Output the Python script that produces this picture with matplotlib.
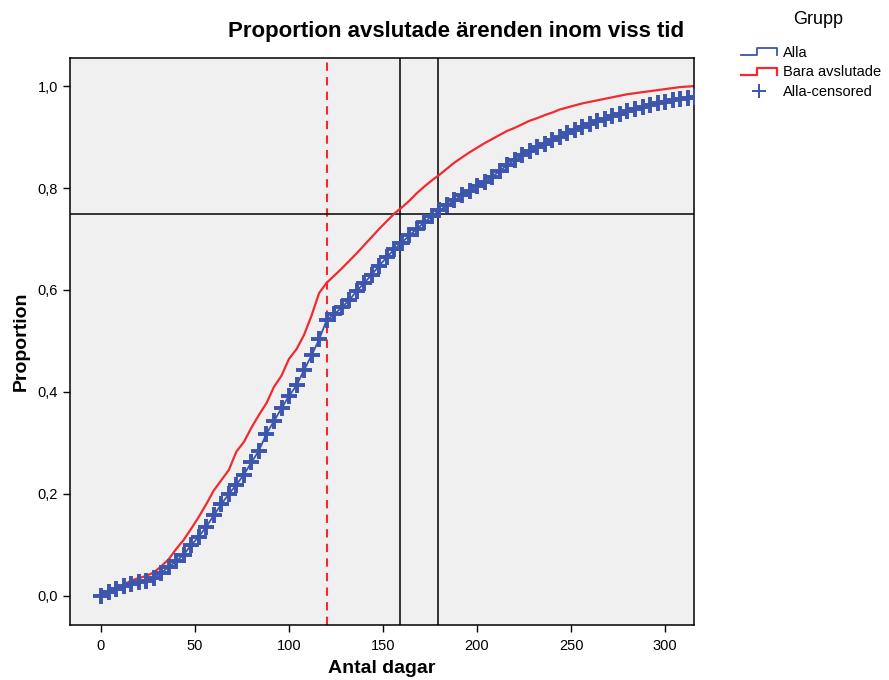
import numpy as np
import matplotlib
matplotlib.use("Agg")
import matplotlib.pyplot as plt
from matplotlib.lines import Line2D
from matplotlib.legend_handler import HandlerBase

plt.rcParams['font.family'] = ['Liberation Sans', 'DejaVu Sans']

# Kumulativ andel avslutade ärenden (avläst var 4:e dag)
dagar = [0, 4, 8, 12, 16, 20, 24, 28, 32, 36, 40, 44, 48, 52, 56, 60, 64, 68, 72, 76,
         80, 84, 88, 92, 96, 100, 104, 108, 112, 116, 120, 124, 128, 132, 136, 140, 144, 148, 152, 156,
         160, 164, 168, 172, 176, 180, 184, 188, 192, 196, 200, 204, 208, 212, 216, 220, 224, 228, 232, 236,
         240, 244, 248, 252, 256, 260, 264, 268, 272, 276, 280, 284, 288, 292, 296, 300, 304, 308, 312, 316]

alla = [0.000, 0.008, 0.014, 0.019, 0.023, 0.027, 0.030, 0.035, 0.045, 0.057,
        0.068, 0.081, 0.100, 0.116, 0.136, 0.158, 0.180, 0.200, 0.218, 0.238,
        0.262, 0.285, 0.318, 0.343, 0.368, 0.392, 0.413, 0.443, 0.472, 0.503,
        0.541, 0.552, 0.566, 0.580, 0.598, 0.614, 0.630, 0.648, 0.664, 0.680,
        0.693, 0.707, 0.720, 0.733, 0.745, 0.756, 0.766, 0.776, 0.786, 0.795,
        0.803, 0.811, 0.822, 0.833, 0.845, 0.855, 0.864, 0.873, 0.880, 0.887,
        0.894, 0.900, 0.907, 0.914, 0.920, 0.926, 0.931, 0.936, 0.941, 0.946,
        0.951, 0.955, 0.959, 0.962, 0.966, 0.969, 0.972, 0.975, 0.977, 0.979]

bara_avslutade = [0.000, 0.008, 0.014, 0.022, 0.030, 0.035, 0.039, 0.046, 0.058, 0.072,
                  0.092, 0.110, 0.132, 0.155, 0.180, 0.207, 0.227, 0.247, 0.283, 0.302,
                  0.330, 0.355, 0.378, 0.410, 0.432, 0.465, 0.484, 0.512, 0.550, 0.594,
                  0.614, 0.628, 0.642, 0.657, 0.672, 0.688, 0.704, 0.720, 0.735, 0.750,
                  0.762, 0.775, 0.790, 0.803, 0.815, 0.826, 0.838, 0.850, 0.860, 0.870,
                  0.879, 0.888, 0.896, 0.904, 0.912, 0.918, 0.925, 0.932, 0.937, 0.943,
                  0.948, 0.954, 0.958, 0.962, 0.966, 0.969, 0.972, 0.975, 0.978, 0.981,
                  0.984, 0.986, 0.988, 0.990, 0.992, 0.994, 0.996, 0.998, 0.999, 1.000]

# Referenslinjer
grans_dagar = 120
dag_75_bara = 159
dag_75_alla = 179
niva = 0.75

x_ticks = [0, 50, 100, 150, 200, 250, 300]
y_ticks = [0.0, 0.2, 0.4, 0.6, 0.8, 1.0]
y_ticklabels = ['0,0', '0,2', '0,4', '0,6', '0,8', '1,0']

bla = '#3c55ad'
rod = '#f02a30'


class StegHandler(HandlerBase):
    # ritar trappstegsformad symbol i legenden
    def create_artists(self, legend, orig_handle, xdescent, ydescent,
                       width, height, fontsize, trans):
        xs = np.array([0, 0.45, 0.45, 1.0, 1.0]) * width - xdescent
        ys = np.array([0.15, 0.15, 0.85, 0.85, 0.15]) * height - ydescent
        line = Line2D(xs, ys, color=orig_handle.get_color(),
                      lw=orig_handle.get_linewidth(), transform=trans)
        return [line]


fig = plt.figure(figsize=(8.89, 6.8), dpi=100)
ax = fig.add_axes([0.0787, 0.0809, 0.702, 0.8338])
ax.set_facecolor('#f0f0f0')

l_alla, = ax.plot(dagar, alla, color=bla, lw=1.3, zorder=3)
l_bara, = ax.plot(dagar, bara_avslutade, color=rod, lw=1.6, zorder=2)
l_cens, = ax.plot(dagar, alla, ls='none', marker='+', ms=11, mew=2.8, color=bla, zorder=4)

ax.axvline(grans_dagar, color=rod, lw=1.5, ls=(0, (4, 3)), zorder=1)
ax.axvline(dag_75_bara, color='black', lw=1.1, zorder=1)
ax.axvline(dag_75_alla, color='black', lw=1.1, zorder=1)
ax.axhline(niva, color='black', lw=1.1, zorder=1)

ax.set_xlim(-16.5, 315.4)
ax.set_ylim(-0.057, 1.055)
ax.set_xticks(x_ticks)
ax.set_yticks(y_ticks)
ax.set_yticklabels(y_ticklabels)
ax.tick_params(direction='out', length=5, width=1, labelsize=10.5, colors='black')
ax.tick_params(axis='x', pad=5)
for s in ax.spines.values():
    s.set_linewidth(1.1)

ax.set_xlabel('Antal dagar', fontsize=14, fontweight='bold', labelpad=5)
ax.set_ylabel('Proportion', fontsize=14, fontweight='bold', labelpad=6)

fig.text(0.513, 1 - 32 / 680, 'Proportion avslutade ärenden inom viss tid',
         ha='center', va='center', fontsize=16, fontweight='bold')

fig.text(818 / 889, 1 - 20 / 680, 'Grupp', ha='center', va='center', fontsize=13)
leg = fig.legend([l_alla, l_bara, l_cens], ['Alla', 'Bara avslutade', 'Alla-censored'],
                 loc='upper left', bbox_to_anchor=(0.833, 0.933), frameon=False,
                 fontsize=10.5, handlelength=2.5, handletextpad=0.4, labelspacing=0.4,
                 borderaxespad=0, borderpad=0,
                 handler_map={l_alla: StegHandler(), l_bara: StegHandler()})
for h in leg.legend_handles:
    if h.get_marker() == '+':
        h.set_markersize(10)
        h.set_markeredgewidth(1.4)

fig.savefig('out.png', dpi=100)
